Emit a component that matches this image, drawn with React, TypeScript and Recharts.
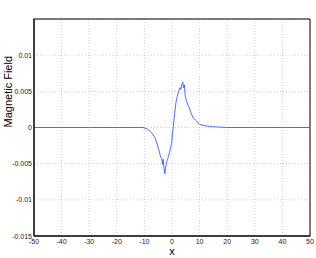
import React from 'react';
import { LineChart, Line, XAxis, YAxis, CartesianGrid, ReferenceArea } from 'recharts';

const xValues = [-50, -40, -30, -20, -15, -12, -10.5, -9, -8, -7, -6.2, -5.6, -5.0, -4.5, -4.1, -3.7, -3.4, -3.2, -2.9, -2.6, -2.2, -1.9, -1.6, -1.3, -0.9, -0.5, -0.1, 0.25, 0.5, 1.0, 1.45, 1.9, 2.4, 2.9, 3.2, 3.5, 3.9, 4.2, 4.5, 4.8, 5.3, 5.9, 6.5, 7.1, 7.7, 8.3, 8.9, 10.1, 11.3, 12.6, 15, 20, 30, 40, 50];
const fieldValues = [0, 0, 0, 0, 0, 0, 0, -0.0002, -0.0005, -0.0009, -0.0014, -0.002, -0.0028, -0.0035, -0.0041, -0.0044, -0.0051, -0.0044, -0.0056, -0.0064, -0.0053, -0.0047, -0.0044, -0.004, -0.0034, -0.0028, -0.0021, -0.0005, 0.0002, 0.0021, 0.0035, 0.0043, 0.005, 0.0055, 0.0053, 0.0059, 0.0063, 0.0055, 0.0059, 0.0043, 0.0036, 0.003, 0.0025, 0.0018, 0.0013, 0.0011, 0.0009, 0.0004, 0.0003, 0.0002, 0.0001, 0, 0, 0, 0];
const xTicks = [-50, -40, -30, -20, -10, 0, 10, 20, 30, 40, 50];
const yTicks = [-0.015, -0.01, -0.005, 0, 0.005, 0.01, 0.015];
const yLabelTicks = [-0.015, -0.01, -0.005, 0, 0.005, 0.01];

const data = xValues.map((x, i) => ({ x, b: fieldValues[i] }));

const tickFont = { fontSize: 7, fill: '#222', fontFamily: 'Liberation Sans, Arial, sans-serif' };

const YTick = (props: any) => {
  const { x, y, payload } = props;
  if (!yLabelTicks.includes(payload.value)) return null;
  return (
    <text x={x} y={y} dy={2.5} textAnchor="end" {...tickFont}>
      {String(payload.value)}
    </text>
  );
};

export default function App() {
  return (
    <div style={{ position: 'absolute', left: 0, top: 0, width: 316, height: 258, background: '#fff' }}>
      <LineChart width={316} height={258} data={data} margin={{ top: 19, right: 6, bottom: 0, left: 0 }}>
        <CartesianGrid stroke="#b0b0b0" strokeDasharray="1 2" strokeWidth={0.6} verticalValues={xTicks} horizontalValues={yTicks} />
        <XAxis xAxisId="bm" dataKey="x" type="number" domain={[-50, 50]} ticks={xTicks} orientation="bottom" mirror height={1} tick={false} tickLine={{ stroke: '#000' }} tickSize={3} axisLine={false} />
        <XAxis dataKey="x" type="number" domain={[-50, 50]} ticks={xTicks} height={22} tickLine={false} tickSize={0} tickMargin={3.5} axisLine={{ stroke: '#000' }} tick={tickFont}
          label={{ value: 'x', position: 'insideBottom', offset: 3, fontSize: 11, fill: '#000', fontFamily: 'Liberation Sans, Arial, sans-serif' }} />
        <XAxis xAxisId="top" dataKey="x" type="number" domain={[-50, 50]} ticks={xTicks} orientation="top" mirror height={1} tick={false} tickLine={{ stroke: '#000' }} tickSize={3} axisLine={false} />
        <YAxis yAxisId="lm" type="number" domain={[-0.015, 0.015]} ticks={yTicks} orientation="left" mirror width={1} tick={false} tickLine={{ stroke: '#000' }} tickSize={3} axisLine={false} />
        <YAxis type="number" domain={[-0.015, 0.015]} ticks={yTicks} width={34} tickLine={false} tickSize={0} tickMargin={2} axisLine={{ stroke: '#000' }} tick={<YTick />} interval={0}
          label={{ value: 'Magnetic Field', angle: -90, position: 'insideLeft', offset: 8.5, fontSize: 11, fill: '#000', fontFamily: 'Liberation Sans, Arial, sans-serif' }} />
        <YAxis yAxisId="right" type="number" domain={[-0.015, 0.015]} ticks={yTicks} orientation="right" mirror width={1} tick={false} tickLine={{ stroke: '#000' }} tickSize={3} axisLine={false} />
        <ReferenceArea x1={-50} x2={50} y1={-0.015} y2={0.015} fill="none" stroke="#000" strokeWidth={1} ifOverflow="visible" />
        <Line type="linear" dataKey="b" stroke="#3a5aff" strokeWidth={0.9} dot={false} isAnimationActive={false} />
      </LineChart>
    </div>
  );
}
